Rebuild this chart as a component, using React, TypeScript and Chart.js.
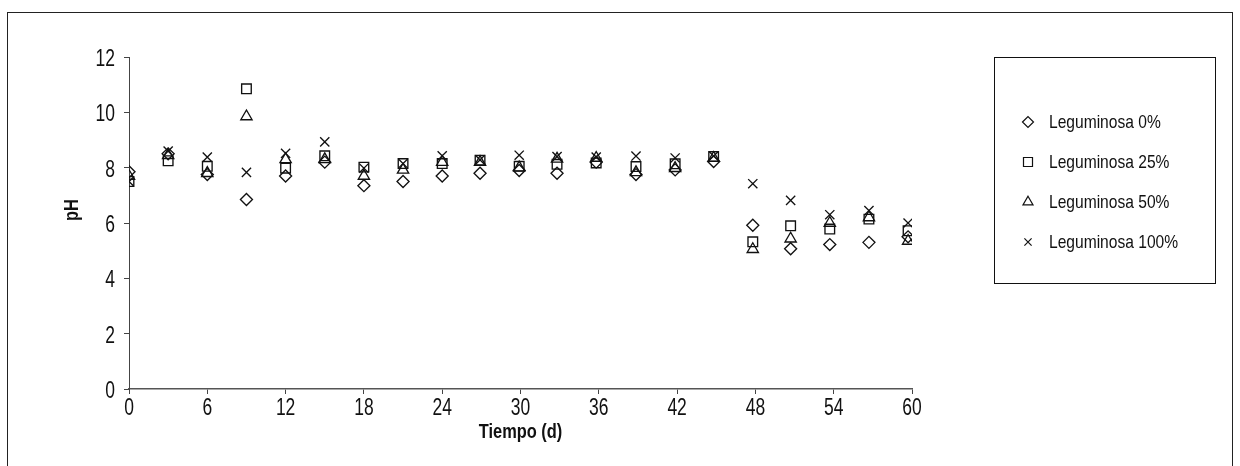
import React, { useEffect, useRef } from 'react';
import { Chart, registerables } from 'chart.js';

Chart.register(...registerables);

const FONT = "'Liberation Sans', Arial, sans-serif";

const days = [0, 3, 6, 9, 12, 15, 18, 21, 24, 26.9, 29.9, 32.8, 35.8, 38.85, 41.85, 44.8, 47.8, 50.7, 53.7, 56.7, 59.7];
const leg0 = [7.85, 8.5, 7.75, 6.85, 7.7, 8.2, 7.35, 7.5, 7.7, 7.8, 7.9, 7.8, 8.2, 7.75, 7.92, 8.22, 5.92, 5.07, 5.22, 5.3, 5.5];
const leg25 = [7.5, 8.25, 8.05, 10.85, 7.98, 8.43, 8.02, 8.15, 8.15, 8.27, 8.05, 8.12, 8.17, 8.04, 8.14, 8.4, 5.32, 5.9, 5.78, 6.14, 5.72];
const leg50 = [7.7, 8.45, 7.8, 9.85, 8.3, 8.3, 7.7, 7.92, 8.2, 8.2, 8.0, 8.32, 8.35, 7.83, 7.98, 8.35, 5.05, 5.43, 6.0, 6.2, 5.35];
const leg100 = [7.5, 8.6, 8.38, 7.83, 8.52, 8.93, 7.98, 8.15, 8.43, 8.28, 8.45, 8.4, 8.38, 8.42, 8.35, 8.42, 7.42, 6.82, 6.3, 6.45, 6.0];

const seriesLabels = ['Leguminosa 0%', 'Leguminosa 25%', 'Leguminosa 50%', 'Leguminosa 100%'];
const seriesValues = [leg0, leg25, leg50, leg100];
const pointStyles = ['rectRot', 'rect', 'triangle', 'crossRot'];
const pointRadii = [6, 6.8, 6.5, 6.5];

const xTitle = 'Tiempo (d)';
const yTitle = 'pH';

const INK = '#111';
const TICK_SIZE = 23;
const TICK_SX = 0.76;

function drawMarker(c: CanvasRenderingContext2D, style: string, x: number, y: number) {
  c.beginPath();
  if (style === 'rectRot') {
    const r = 5.5;
    c.moveTo(x - r, y); c.lineTo(x, y - r); c.lineTo(x + r, y); c.lineTo(x, y + r); c.closePath();
  } else if (style === 'rect') {
    const s = 4.5;
    c.rect(x - s, y - s, 2 * s, 2 * s);
  } else if (style === 'triangle') {
    const r = 5.8;
    c.moveTo(x, y - r);
    c.lineTo(x + r * 0.866, y + r * 0.5);
    c.lineTo(x - r * 0.866, y + r * 0.5);
    c.closePath();
  } else {
    const s = 3.6;
    c.moveTo(x - s, y - s); c.lineTo(x + s, y + s);
    c.moveTo(x + s, y - s); c.lineTo(x - s, y + s);
  }
  c.stroke();
}

function narrowText(c: CanvasRenderingContext2D, text: string, x: number, y: number, align: CanvasTextAlign, sx: number, rot = 0) {
  c.save();
  c.translate(x, y);
  if (rot) c.rotate(rot);
  c.scale(sx, 1);
  c.textAlign = align;
  c.fillText(text, 0, 0);
  c.restore();
}

export default function App() {
  const ref = useRef<HTMLCanvasElement>(null);

  useEffect(() => {
    const canvas = ref.current!;
    const textPlugin = {
      id: 'narrowTexts',
      afterDraw(chart: any) {
        const c: CanvasRenderingContext2D = chart.ctx;
        const xs = chart.scales.x;
        const ys = chart.scales.y;
        c.save();
        c.fillStyle = INK;
        c.textBaseline = 'alphabetic';
        c.font = `${TICK_SIZE}px ${FONT}`;
        xs.ticks.forEach((t: any) => {
          narrowText(c, String(t.label), xs.getPixelForValue(t.value), xs.bottom - 77 + 26, 'center', TICK_SX);
        });
        ys.ticks.forEach((t: any) => {
          narrowText(c, String(t.label), 115, ys.getPixelForValue(t.value) + 9, 'right', TICK_SX);
        });
        c.font = `bold 20px ${FONT}`;
        c.textBaseline = 'middle';
        narrowText(c, xTitle, (xs.left + xs.right) / 2, 432, 'center', 0.82);
        narrowText(c, yTitle, 72, 210, 'center', 0.82, -Math.PI / 2);
        c.strokeStyle = INK;
        c.lineWidth = 1;
        c.strokeRect(994.5, 57.5, 221, 226);
        c.font = `19px ${FONT}`;
        const ly = [122, 162, 202, 242];
        seriesLabels.forEach((lab, i) => {
          c.lineWidth = 1.2;
          drawMarker(c, pointStyles[i], 1028, ly[i]);
          narrowText(c, lab, 1049, ly[i] + 1, 'left', 0.82);
        });
        c.restore();
      },
    };

    const chart = new Chart(canvas, {
      type: 'scatter',
      data: {
        datasets: seriesValues.map((vals, i) => ({
          label: seriesLabels[i],
          data: vals.map((v, j) => ({ x: days[j], y: v })),
          pointStyle: pointStyles[i] as any,
          pointRadius: pointRadii[i],
          pointHoverRadius: pointRadii[i],
          borderColor: INK,
          backgroundColor: 'rgba(0,0,0,0)',
          pointBorderWidth: 1.35,
          showLine: false,
        })),
      },
      options: {
        responsive: false,
        animation: false,
        events: [],
        layout: { padding: { left: 0, right: 328, top: 57, bottom: 0 } },
        plugins: {
          legend: { display: false },
          tooltip: { enabled: false },
          title: { display: false },
        },
        scales: {
          x: {
            type: 'linear',
            min: 0,
            max: 60,
            afterFit: (s: any) => { s.height = 77; },
            ticks: {
              stepSize: 6,
              color: 'rgba(0,0,0,0)',
              padding: 2,
              font: { family: FONT, size: 16 },
              maxRotation: 0,
            },
            grid: { display: true, drawOnChartArea: false, drawTicks: true, tickLength: 5, color: '#444' },
            border: { display: true, color: '#555', width: 1.5 },
          },
          y: {
            min: 0,
            max: 12,
            afterFit: (s: any) => { s.width = 129; },
            ticks: {
              stepSize: 2,
              color: 'rgba(0,0,0,0)',
              padding: 8,
              font: { family: FONT, size: 16 },
            },
            grid: { display: true, drawOnChartArea: false, drawTicks: true, tickLength: 5, color: '#444' },
            border: { display: true, color: '#444', width: 1 },
          },
        },
      },
      plugins: [textPlugin],
    });
    return () => chart.destroy();
  }, []);

  return (
    <div style={{ position: 'fixed', left: 0, top: 0, width: 1240, height: 466, overflow: 'hidden', background: '#fff' }}>
      <div style={{ position: 'absolute', left: 7, top: 12, width: 1224, height: 500, border: '1px solid #222' }} />
      <canvas ref={ref} width={1240} height={466} style={{ position: 'absolute', left: 0, top: 0, width: 1240, height: 466 }} />
    </div>
  );
}
